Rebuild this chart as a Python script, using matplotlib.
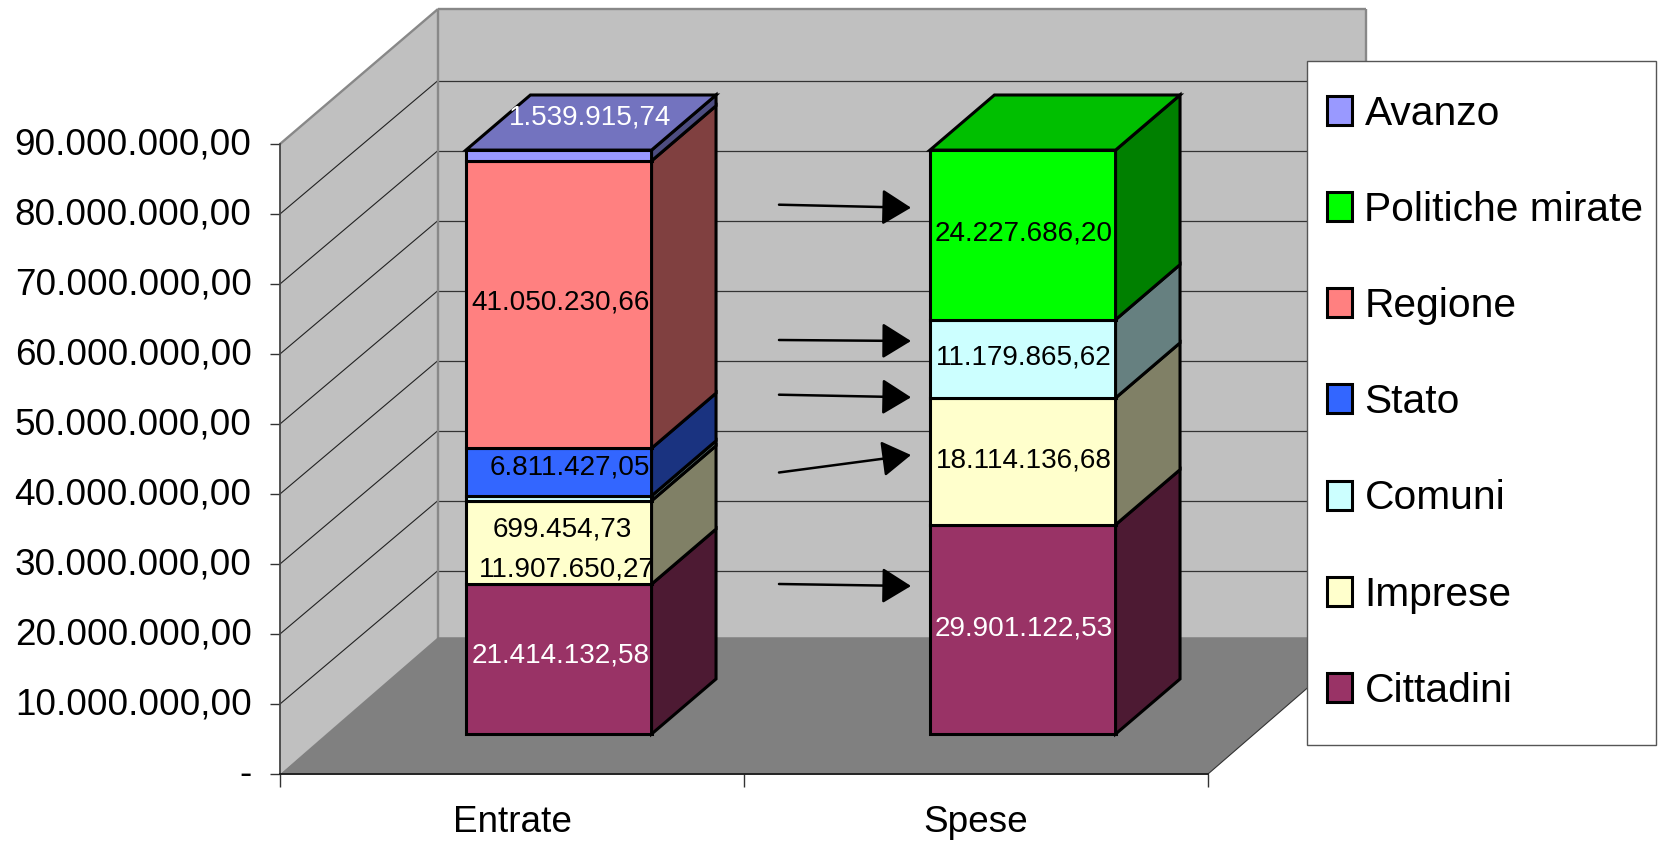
import matplotlib
matplotlib.use("Agg")
import matplotlib.pyplot as plt
from matplotlib.patches import Polygon, Patch, Rectangle
from matplotlib.ticker import FuncFormatter, FixedLocator, NullFormatter
from matplotlib.transforms import ScaledTranslation

plt.rcParams['font.family'] = ['Liberation Sans', 'DejaVu Sans']

# Stack values, bottom to top, for each column
categories = ['Entrate', 'Spese']
entrate_series = ['Cittadini', 'Imprese', 'Comuni', 'Stato', 'Regione', 'Avanzo']
entrate_values = [21414132.58, 11907650.27, 699454.73, 6811427.05, 41050230.66, 1539915.74]
spese_series = ['Cittadini', 'Imprese', 'Comuni', 'Politiche mirate']
spese_values = [29901122.53, 18114136.68, 11179865.62, 24227686.20]
legend_order = ['Avanzo', 'Politiche mirate', 'Regione', 'Stato', 'Comuni', 'Imprese', 'Cittadini']
y_ticks = [v * 10_000_000 for v in range(10)]

colors = {
    'Cittadini': (0x99, 0x33, 0x66), 'Imprese': (0xFF, 0xFF, 0xCC),
    'Comuni': (0xCC, 0xFF, 0xFF), 'Stato': (0x33, 0x66, 0xFF),
    'Regione': (0xFF, 0x80, 0x80), 'Politiche mirate': (0x00, 0xFF, 0x00),
    'Avanzo': (0x99, 0x99, 0xFF),
}
label_color = {'Cittadini': 'white', 'Avanzo': 'white'}

# Hand-placed data label nudges, in pixels from each segment's front centre
entrate_nudges = [(2, 4), (8, -27), (3, -31), (11, 5), (2, 2), (31, 38)]
spese_nudges = [(1, 1), (1, 1), (1, 1), (1, 1)]

W, H, DPI = 1661, 842, 100
fig = plt.figure(figsize=(W / DPI, H / DPI), dpi=DPI, facecolor='white')
ax = fig.add_axes([280 / W, (H - 774) / H, 928 / W, 630 / H])
ax.set_xlim(-0.5, 1.5)
ax.set_ylim(0, 90_000_000)
ax.patch.set_visible(False)

# Oblique projection: full depth moves the point right and up
DEPTH_X = 158 / 464
DEPTH_Y = 135 / 7 * 1_000_000
GRID_SAG = 220_000    # gridlines meet the back wall slightly below the nominal height
FLOOR_LIFT = 250_000  # the floor's back edge sits a little above the zero level
def proj(c, d, v):
    return (c + d * DEPTH_X, v + d * DEPTH_Y)

def poly(points, **kw):
    kw.setdefault('clip_on', False)
    ax.add_patch(Polygon(points, closed=True, **kw))

WALL = '#C0C0C0'
FLOOR = '#808080'
EDGE = '#888888'
GRID = '#333333'
x0, x1 = -0.5, 1.5
top = y_ticks[-1]

# Walls and floor
poly([proj(x0, 1, 0), proj(x1, 1, 0), proj(x1, 1, top), proj(x0, 1, top)], fc=WALL, ec='none', zorder=1)
poly([proj(x0, 0, 0), proj(x0, 1, 0), proj(x0, 1, top), proj(x0, 0, top)], fc=WALL, ec='none', zorder=1)

def seg(a, b, **kw):
    ax.plot([a[0], b[0]], [a[1], b[1]], clip_on=False, solid_capstyle='butt', **kw)

for v in y_ticks[1:-1]:
    seg(proj(x0, 0, v), proj(x0, 1, v - GRID_SAG), color='#222222', lw=0.8, zorder=2)
    seg(proj(x0, 1, v - GRID_SAG), proj(x1, 1, v - GRID_SAG), color=GRID, lw=0.9, zorder=2)
for a, b in [((x0, 0, top), (x0, 1, top)), ((x0, 1, top), (x1, 1, top)),
             ((x1, 1, top), (x1, 1, 0)), ((x0, 1, 0), (x0, 1, top))]:
    seg(proj(*a), proj(*b), color=EDGE, lw=1.7, zorder=2)
poly([proj(x0, 0, 0), proj(x1, 0, 0), proj(x1, 1, FLOOR_LIFT), proj(x0, 1, FLOOR_LIFT)],
     fc=FLOOR, ec='none', zorder=2.5)
seg(proj(x1, 0, 0), proj(x1, 1, FLOOR_LIFT), color='#333333', lw=0.8, zorder=2.6)

# Stacked 3D columns
HALF = 0.2
D0, D1 = 0.296, 0.704
def shade(rgb, f):
    return tuple(c * f / 255 for c in rgb)

def draw_stack(c, names, values, nudges):
    edge = dict(ec='black', lw=2.2, joinstyle='miter', zorder=4)
    base = 0.0
    for name, val in zip(names, values):
        rgb = colors[name]
        t = base + val
        poly([proj(c - HALF, D0, base), proj(c + HALF, D0, base),
              proj(c + HALF, D0, t), proj(c - HALF, D0, t)], fc=shade(rgb, 1), **edge)
        poly([proj(c + HALF, D0, base), proj(c + HALF, D1, base),
              proj(c + HALF, D1, t), proj(c + HALF, D0, t)], fc=shade(rgb, 0.5), **edge)
        base = t
    poly([proj(c - HALF, D0, base), proj(c + HALF, D0, base),
          proj(c + HALF, D1, base), proj(c - HALF, D1, base)],
         fc=shade(colors[names[-1]], 0.75), **edge)
    # Labels go on afterwards so they sit above every face
    base = 0.0
    for name, val, (nx, ny) in zip(names, values, nudges):
        txt = f'{val:,.2f}'.replace(',', '#').replace('.', ',').replace('#', '.')
        ax.annotate(txt, xy=proj(c, D0, base + val / 2), xytext=(nx, ny),
                    textcoords='offset pixels', ha='center', va='center',
                    fontsize=20.1, color=label_color.get(name, 'black'),
                    annotation_clip=False, zorder=6)
        base += val

draw_stack(0, entrate_series, entrate_values, entrate_nudges)
draw_stack(1, spese_series, spese_values, spese_nudges)

# Arrows between the columns, given as figure pixels from the top-left corner
arrow_rows = [((779, 204.7), (911, 207.7)), ((779, 340), (911, 341)),
              ((779, 394.7), (911, 397.3)), ((779, 472.5), (911, 455)),
              ((779, 584), (911, 586))]
for start, end in arrow_rows:
    ax.annotate('', xy=(end[0], H - end[1]), xytext=(start[0], H - start[1]),
                xycoords='figure pixels', textcoords='figure pixels', zorder=7,
                annotation_clip=False,
                arrowprops=dict(arrowstyle='-|>,head_length=1.0,head_width=0.62',
                                mutation_scale=18, lw=1.8, color='black',
                                shrinkA=0, shrinkB=0))

# Axes, ticks and labels
def euro(v, _):
    if v == 0:
        return '-'
    return f'{v:,.2f}'.replace(',', '#').replace('.', ',').replace('#', '.')

ax.yaxis.set_major_locator(FixedLocator(y_ticks))
ax.yaxis.set_major_formatter(FuncFormatter(euro))
ax.tick_params(axis='y', length=7.5, width=1.0, color=GRID, pad=13, labelsize=26.6)
lift = ScaledTranslation(0, 3 / DPI, fig.dpi_scale_trans)
for lbl in ax.get_yticklabels():
    lbl.set_transform(lbl.get_transform() + lift)
ax.xaxis.set_major_locator(FixedLocator([-0.5, 0.5, 1.5]))
ax.xaxis.set_major_formatter(NullFormatter())
ax.set_xticks([0, 1], categories, minor=True)
ax.tick_params(axis='x', which='major', length=9, width=1.0, color=GRID)
ax.tick_params(axis='x', which='minor', length=0, pad=22.5, labelsize=26.6)
for side in ('top', 'right'):
    ax.spines[side].set_visible(False)
ax.spines['left'].set(color='#444444', lw=1.3, zorder=3)
ax.spines['bottom'].set(color='#222222', lw=1.4, zorder=3)

# Legend panel
panel = Rectangle((1307 / W, (H - 745) / H), 349 / W, 684 / H, transform=fig.transFigure,
                  fc='white', ec='#555555', lw=1.0, zorder=8, clip_on=False)
ax.add_patch(panel)
handles = [Patch(fc=shade(colors[n], 1), ec='black', lw=2.2) for n in legend_order]
leg = ax.legend(handles, legend_order, loc='upper left', frameon=False, fontsize=29.3,
                bbox_to_anchor=(1327 / W, (H - 94.6) / H), bbox_transform=fig.transFigure,
                borderpad=0, borderaxespad=0, handlelength=0.62, handleheight=0.72,
                handletextpad=0.3, labelspacing=1.43)
leg.set_zorder(9)

fig.savefig('out.png', dpi=DPI, facecolor='white')
